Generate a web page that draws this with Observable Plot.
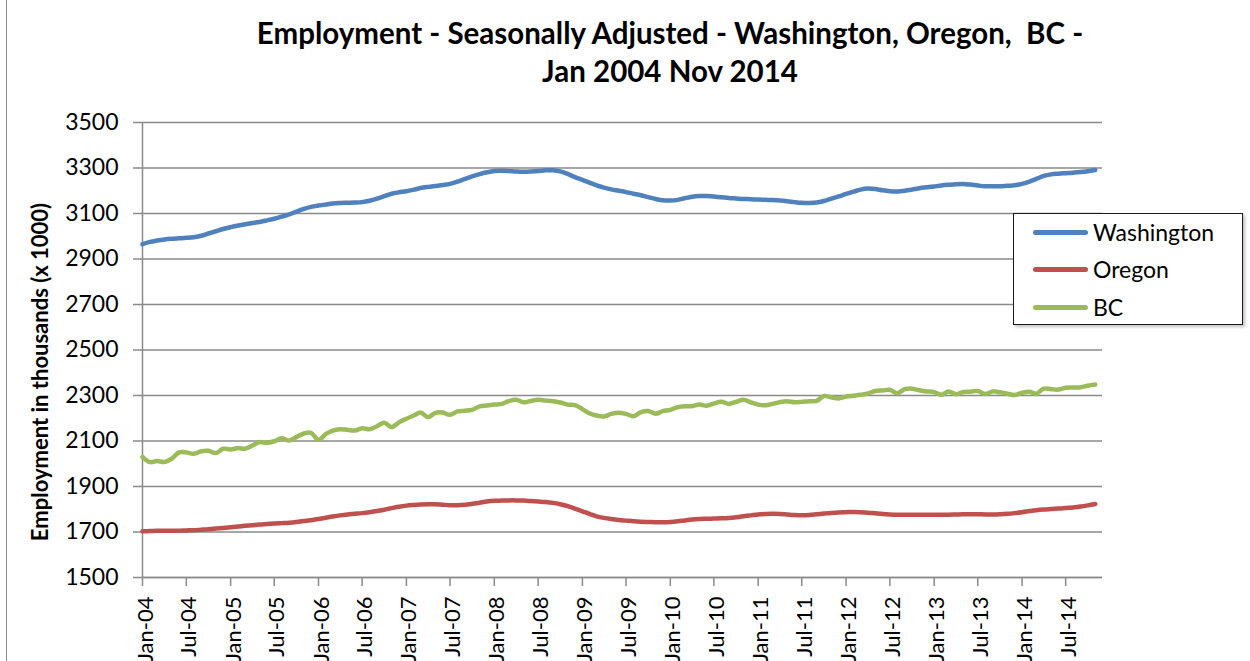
<!DOCTYPE html>
<html>
<head>
<meta charset="utf-8">
<script src="https://cdn.jsdelivr.net/npm/d3@7"></script>
<script src="https://cdn.jsdelivr.net/npm/@observablehq/plot@0.6"></script>
<style>
  html, body { margin: 0; padding: 0; background: #fff; }
  #chart { position: relative; width: 1250px; height: 661px; overflow: hidden; background: #fff; font-family: Lato, "Open Sans", sans-serif; }
  #border { position: absolute; left: 6px; top: -2px; width: 1300px; height: 700px; border: 1.5px solid #8a8a8a; box-sizing: border-box; }
  #title { position: absolute; left: 0; top: 14px; width: 1340px; text-align: center; font-weight: bold; font-size: 29.5px; line-height: 38px; color: #000; }
  #plot { position: absolute; left: 0; top: 100px; }
  #legend { position: absolute; left: 1013px; top: 213px; width: 230px; height: 112px; border: 1.5px solid #1a1a1a; box-sizing: border-box; background: #fff; box-shadow: 2px 2px 3px rgba(0,0,0,0.25); }
  .item { position: absolute; left: 0; height: 30px; display: flex; align-items: center; font-size: 23px; color: #000; }
  .sw { width: 55px; height: 5px; border-radius: 3px; margin-left: 19px; margin-right: 5px; }
</style>
</head>
<body>
<div id="chart">
  <div id="border"></div>
  <div id="title">Employment - Seasonally Adjusted - Washington, Oregon,&nbsp; BC -<br>Jan 2004 Nov 2014</div>
  <div id="plot"></div>
  <div id="legend"></div>
</div>
<script>
// ---- Data (thousands), monthly Jan 2004 .. Nov 2014 ----
const seriesNames = ["Washington", "Oregon", "BC"];
const seriesColors = ["#4F81BD", "#C0504D", "#9BBB59"];

const washington = [
  2965, 2975, 2981, 2986, 2989, 2991, 2993, 2996, 3002, 3012, 3022, 3032,
  3040, 3047, 3053, 3058, 3063, 3070, 3077, 3086, 3096, 3108, 3120, 3129,
  3135, 3140, 3144, 3146, 3147, 3148, 3150, 3156, 3165, 3176, 3187, 3193,
  3198, 3205, 3212, 3217, 3221, 3225, 3230, 3240, 3252, 3263, 3273, 3281,
  3287, 3288, 3287, 3285, 3284, 3285, 3287, 3290, 3290, 3285, 3274, 3260,
  3248, 3235, 3224, 3214, 3206, 3200, 3194, 3187, 3180, 3172, 3164, 3158,
  3157, 3160, 3167, 3174, 3177, 3177, 3175, 3171, 3168, 3166, 3164, 3163,
  3161, 3160, 3159, 3157, 3154, 3150, 3147, 3146, 3148, 3155, 3165, 3175,
  3186, 3196, 3205, 3210, 3208, 3202, 3198, 3197, 3200, 3205, 3211, 3215,
  3219, 3223, 3226, 3229, 3230, 3227, 3223, 3220, 3220, 3220, 3222, 3224,
  3230, 3240, 3252, 3265, 3272, 3275, 3277, 3279, 3282, 3286, 3291
];
const oregon = [
  1703, 1704, 1705, 1705, 1706, 1706, 1707, 1708, 1710, 1712, 1715, 1718,
  1721, 1724, 1727, 1730, 1733, 1735, 1737, 1739, 1741, 1744, 1748, 1752,
  1757, 1763, 1768, 1773, 1777, 1780, 1783, 1787, 1792, 1798, 1805, 1811,
  1816, 1819, 1821, 1822, 1822, 1820, 1818, 1818, 1820, 1824, 1829, 1834,
  1837, 1838, 1839, 1839, 1838, 1836, 1834, 1832, 1828, 1822, 1814, 1803,
  1791, 1779, 1769, 1762, 1757, 1753, 1750, 1747, 1745, 1744, 1743, 1743,
  1744, 1747, 1751, 1755, 1757, 1758, 1759, 1760, 1762, 1765, 1769, 1773,
  1777, 1779, 1780, 1779, 1777, 1775, 1774, 1775, 1778, 1781, 1784, 1786,
  1787, 1788, 1787, 1785, 1782, 1779, 1777, 1776, 1776, 1776, 1776, 1776,
  1776, 1776, 1776, 1777, 1778, 1778, 1778, 1777, 1777, 1778, 1780, 1783,
  1787, 1792, 1796, 1799, 1801, 1803, 1805, 1808, 1812, 1817, 1823
];
const bc = [
  2030, 2007, 2012, 2008, 2022, 2050, 2050, 2044, 2055, 2057, 2047, 2066,
  2063, 2069, 2066, 2080, 2095, 2092, 2099, 2112, 2102, 2117, 2133, 2136,
  2105, 2131, 2146, 2152, 2149, 2146, 2156, 2152, 2165, 2180, 2161, 2182,
  2198, 2212, 2225, 2205, 2224, 2225, 2215, 2230, 2233, 2237, 2252, 2256,
  2260, 2263, 2275, 2281, 2270, 2276, 2281, 2278, 2275, 2269, 2260, 2258,
  2240, 2221, 2212, 2208, 2219, 2224, 2219, 2209, 2227, 2232, 2220, 2231,
  2237, 2249, 2253, 2253, 2260, 2255, 2265, 2273, 2263, 2272, 2281, 2270,
  2260, 2257, 2263, 2271, 2275, 2270, 2272, 2275, 2276, 2298, 2292, 2287,
  2295, 2299, 2303, 2309, 2320, 2322, 2325, 2310, 2328, 2330, 2323, 2318,
  2315, 2303, 2318, 2306, 2315, 2317, 2320, 2307, 2318, 2314, 2308, 2302,
  2312, 2316, 2308, 2330, 2328, 2326, 2334, 2335, 2336, 2343, 2348
];
const yTicks = [1500, 1700, 1900, 2100, 2300, 2500, 2700, 2900, 3100, 3300, 3500];
const xTickLabels = ["Jan-04","Jul-04","Jan-05","Jul-05","Jan-06","Jul-06","Jan-07","Jul-07",
  "Jan-08","Jul-08","Jan-09","Jul-09","Jan-10","Jul-10","Jan-11","Jul-11","Jan-12","Jul-12",
  "Jan-13","Jul-13","Jan-14","Jul-14"];
const yLabel = "Employment in thousands (x 1000)";

// ---- Build table ----
const months = d3.utcMonth.range(new Date(Date.UTC(2004, 0, 1)), new Date(Date.UTC(2014, 11, 1)));
const allValues = [washington, oregon, bc];
const rows = [];
seriesNames.forEach((name, i) => {
  allValues[i].forEach((v, j) => rows.push({series: name, date: months[j], value: v}));
});
const parseTick = d3.utcParse("%b-%y");
const xTicks = xTickLabels.map(parseTick);
const fmtTick = d3.utcFormat("%b-%y");

const gridColor = "#8a8a8a";
const plot = Plot.plot({
  width: 1250,
  height: 561,
  marginLeft: 142,
  marginRight: 148,
  marginTop: 22,
  marginBottom: 84,
  style: {fontFamily: "Lato, 'Open Sans', sans-serif", color: "#000", background: "transparent", overflow: "visible"},
  x: {type: "utc", domain: [new Date(Date.UTC(2004, 0, 1)), new Date(Date.UTC(2014, 11, 1))]},
  y: {domain: [1500, 3500]},
  color: {domain: seriesNames, range: seriesColors},
  marks: [
    Plot.gridY(yTicks, {stroke: gridColor, strokeOpacity: 1, strokeWidth: 1.5}),
    Plot.axisY({ticks: yTicks, tickFormat: d3.format("d"), tickSize: 9, tickPadding: 15, fontSize: 23, stroke: gridColor, strokeWidth: 1.5, strokeOpacity: 1, label: null}),
    Plot.axisX({ticks: xTicks, tickFormat: () => "", tickSize: 9, stroke: gridColor, strokeWidth: 1.5, strokeOpacity: 1, label: null}),
    Plot.axisX({ticks: xTicks, tickFormat: fmtTick, tickRotate: -90, tickSize: 0, tickPadding: 19, fontSize: 22, dx: 3, label: null}),
    Plot.ruleX([months[0]], {stroke: gridColor, strokeWidth: 1.5}),
    Plot.ruleY([1500], {stroke: gridColor, strokeWidth: 1.5}),
    Plot.line(rows, {x: "date", y: "value", z: "series", stroke: "series", strokeWidth: 4.5, curve: "catmull-rom", strokeLinecap: "round", strokeLinejoin: "round"}),
    Plot.text([yLabel], {frameAnchor: "left", textAnchor: "middle", rotate: -90, dx: -102, dy: 22, fontWeight: "bold", fontSize: 22, fill: "#000"})
  ]
});
document.getElementById("plot").appendChild(plot);

// ---- Legend ----
const legend = document.getElementById("legend");
const legendTops = [3, 40, 78];
seriesNames.forEach((name, i) => {
  const it = document.createElement("div");
  it.className = "item";
  it.style.top = legendTops[i] + "px";
  const sw = document.createElement("span");
  sw.className = "sw";
  sw.style.background = seriesColors[i];
  const tx = document.createElement("span");
  tx.textContent = name;
  it.appendChild(sw); it.appendChild(tx);
  legend.appendChild(it);
});
</script>
</body>
</html>
